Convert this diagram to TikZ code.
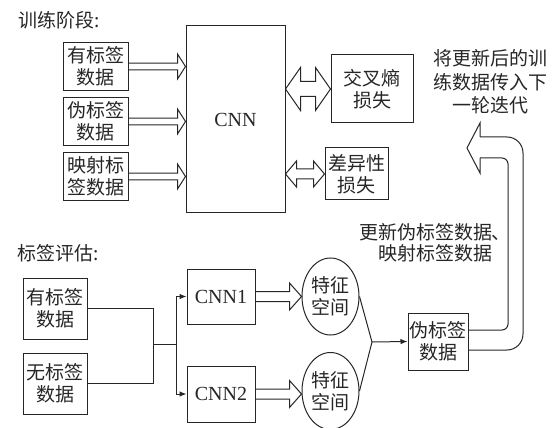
\documentclass[tikz,border=0pt]{standalone}
\usepackage{fontspec}
\setmainfont{Liberation Serif}
\newfontfamily\cjk{Noto Sans CJK SC}
\usepackage{tikz}
\usetikzlibrary{arrows.meta,positioning,shapes.geometric,calc}
\definecolor{Ink}{HTML}{262626}
\tikzset{
  hollow/.style n args={3}{to path={let \p1=(\tikztostart),\p2=(\tikztotarget) in
    (\x1,{\y1+#1}) -- ({\x2-#3},{\y1+#1}) -- ({\x2-#3},{\y1+#2}) -- (\x2,\y1)
    -- ({\x2-#3},{\y1-#2}) -- ({\x2-#3},{\y1-#1}) -- (\x1,{\y1-#1})}},
  hollowboth/.style n args={3}{to path={let \p1=(\tikztostart),\p2=(\tikztotarget) in
    (\x1,\y1) -- ({\x1+#3},{\y1+#2}) -- ({\x1+#3},{\y1+#1}) -- ({\x2-#3},{\y1+#1})
    -- ({\x2-#3},{\y1+#2}) -- (\x2,\y1) -- ({\x2-#3},{\y1-#2}) -- ({\x2-#3},{\y1-#1})
    -- ({\x1+#3},{\y1-#1}) -- ({\x1+#3},{\y1-#2}) -- cycle}},
}

\begin{document}
\begin{tikzpicture}[x=1pt,y=-1pt,line width=1pt,color=Ink,
  every node/.style={inner sep=1pt,font=\cjk\fontsize{19}{22}\selectfont,align=center},
  box/.style={draw,minimum width=65pt,minimum height=48pt},
  latin/.style={font=\rmfamily\fontsize{20}{22}\selectfont},
  feat/.style={ellipse,draw,minimum width=57pt,minimum height=77pt,inner sep=0pt},
  arr/.style={-{Latex[length=7pt,width=5.5pt]}}]
  \useasboundingbox (0,0) rectangle (558,428);
  \node[anchor=west,inner sep=0pt] (trainlbl) at (18,20) {训练阶段:};
  \node[draw,latin,minimum width=99pt,minimum height=187pt] (cnn) at (235.5,119.5) {CNN};
  \node[box] (labeled) at (95.5,66.5) {有标签\\数据};
  \node[box] (pseudo) at (95.5,121.5) {伪标签\\数据};
  \node[box] (mapped) at (95.5,176.5) {映射标\\签数据};
  \node[draw,minimum width=82pt,minimum height=68pt] (celoss) at (372,89) {交叉熵\\损失};
  \node[draw,minimum width=63pt,minimum height=52pt] (dfloss) at (356.5,174) {差异性\\损失};
  \node[inner sep=0pt,font=\cjk\fontsize{19}{23.5}\selectfont] (nextnote) at (490,82) {将更新后的训\\练数据传入下\\一轮迭代};
  \foreach \src in {labeled,pseudo,mapped}
    \draw (\src.east) to[hollow={3.3pt}{12.5pt}{8pt}] (cnn.west |- \src.east);
  \draw (cnn.east |- celoss.west) to[hollowboth={7.5pt}{21.5pt}{15pt}] (celoss.west);
  \draw (cnn.east |- dfloss.west) to[hollowboth={5pt}{13pt}{11pt}] (dfloss.west);

  \node[anchor=west,inner sep=0pt] (evallbl) at (17,253) {标签评估:};
  \node[box,minimum width=64pt,minimum height=61pt] (lbin) at (55,308.5) {有标签\\数据};
  \node[box,minimum width=64pt,minimum height=61pt] (ubin) at (55,383.5) {无标签\\数据};
  \node[draw,latin,minimum width=68pt,minimum height=55pt] (cnna) at (221,296.5) {CNN1};
  \node[draw,latin,minimum width=68pt,minimum height=56pt] (cnnb) at (221,394) {CNN2};
  \node[feat] (feata) at (330.5,296.5) {特征\\空间};
  \node[feat] (featb) at (330.5,391) {特征\\空间};
  \node[draw,minimum width=60pt,minimum height=57pt] (plabel) at (438,341.5) {伪标签\\数据};
  \node[inner sep=0pt,font=\cjk\fontsize{19}{21}\selectfont] (updnote) at (435,242.5) {更新伪标签数据、\\映射标签数据};
  \coordinate (jin) at (153,344);
  \coordinate (jsplit) at (176,344);
  \coordinate (jfeat) at (372,342);
  \draw (lbin.east) -| (jin);
  \draw (ubin.east) -| (jin) -- (jsplit);
  \draw[arr] (jsplit) |- (cnna.west);
  \draw[arr] (jsplit) |- (cnnb.west);
  \draw (cnna.east) to[hollow={5pt}{13.5pt}{12pt}] (feata.west);
  \draw (cnnb.east) to[hollow={5pt}{13.5pt}{12pt}] (featb.west);
  \draw (feata.east) -- (jfeat) -- (featb.east);
  \draw[arr] (jfeat) -- (plabel.west);
  \draw[rounded corners=6pt] ($(plabel.east)+(0,-11.5)$) -- (508,330) -- (508,158) -- (480,158);
  \draw (480,158) -- (480,173) -- (467,148) -- (480,123) -- (480,137);
  \draw[rounded corners=16pt] (480,137) -- (523,137) -- (523,350) -- ($(plabel.east)+(0,8.5)$);
\end{tikzpicture}
\end{document}
